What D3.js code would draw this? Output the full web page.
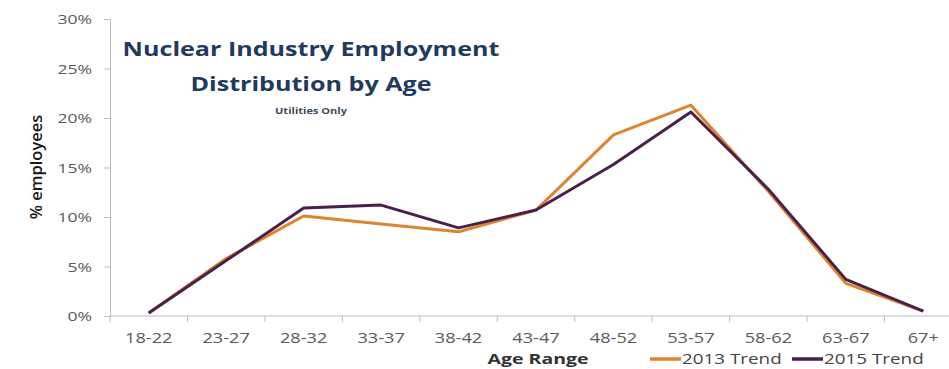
<!DOCTYPE html>
<html>
<head>
<meta charset="utf-8">
<script src="https://cdn.jsdelivr.net/npm/d3@7"></script>
<style>
  body { margin: 0; background: #fff; }
  text { font-family: "Open Sans", Lato, sans-serif; }
</style>
</head>
<body>
<div id="chart"></div>
<script>
// age bands on the x axis
var ageRanges = ["18-22", "23-27", "28-32", "33-37", "38-42", "43-47",
                 "48-52", "53-57", "58-62", "63-67", "67+"];

// share of employees, percent
var trend2013 = [0.3, 5.8, 10.1, 9.3, 8.5, 10.7, 18.3, 21.3, 12.6, 3.3, 0.5];
var trend2015 = [0.3, 5.6, 10.9, 11.2, 8.9, 10.7, 15.3, 20.6, 12.8, 3.7, 0.5];

var yTicks = [0, 5, 10, 15, 20, 25, 30];

var seriesNames = ["2013 Trend", "2015 Trend"];
var seriesColors = ["#dc842f", "#4a1f4c"];

var width = 949, height = 369;
var plotLeft = 110, plotRight = 962, plotTop = 19, plotBottom = 316;
// the source picture is stretched sideways, so text is widened to match
var stretch = 1.3;

var svg = d3.select("#chart").append("svg")
  .attr("width", width)
  .attr("height", height);

var x = d3.scaleBand().domain(ageRanges).range([plotLeft, plotRight]);
var y = d3.scaleLinear().domain([0, 30]).range([plotBottom, plotTop]);

/**
* addText
* [puts a text at (px, py) widened by the stretch factor]
**/
function addText(g, px, py, str, size, anchor, fill, weight){
  return g.append("text")
    .attr("transform", "translate(" + px + "," + py + ") scale(" + stretch + ",1)")
    .attr("text-anchor", anchor)
    .attr("fill", fill)
    .style("font-size", size + "px")
    .style("font-weight", weight || "normal")
    .text(str);
}

// y axis
var yAxis = svg.append("g")
  .attr("transform", "translate(" + plotLeft + ",0)")
  .call(d3.axisLeft(y).tickValues(yTicks).tickSize(6).tickFormat(""));
yAxis.selectAll("line, path").attr("stroke", "#bdbdbd");
yTicks.forEach(function(t){
  addText(svg, plotLeft - 18, y(t) + 5, t + "%", 13.5, "end", "#5a5a5a");
});

// x axis, ticks sit between the bands
var xAxis = svg.append("g")
  .attr("transform", "translate(0," + plotBottom + ")");
xAxis.append("line")
  .attr("x1", plotLeft).attr("x2", plotRight)
  .attr("stroke", "#bdbdbd");
xAxis.selectAll(".tk")
  .data(ageRanges)
  .enter()
  .append("line")
  .attr("x1", function(d){ return x(d); })
  .attr("x2", function(d){ return x(d); })
  .attr("y1", 0).attr("y2", 6)
  .attr("stroke", "#bdbdbd");
ageRanges.forEach(function(d){
  addText(svg, x(d) + x.bandwidth()/2, plotBottom + 27, d, 14, "middle", "#5a5a5a");
});

// lines
var line = d3.line()
  .x(function(d, i){ return x(ageRanges[i]) + x.bandwidth()/2; })
  .y(function(d){ return y(d); });

[trend2013, trend2015].forEach(function(s, k){
  svg.append("path")
    .datum(s)
    .attr("fill", "none")
    .attr("stroke", seriesColors[k])
    .attr("stroke-width", 3)
    .attr("stroke-linejoin", "round")
    .attr("d", line);
});

// titles
addText(svg, 311, 56, "Nuclear Industry Employment", 19.3, "middle", "#1f3a5f", "bold");
addText(svg, 311, 91, "Distribution by Age", 19.3, "middle", "#1f3a5f", "bold");
addText(svg, 311, 114, "Utilities Only", 8.5, "middle", "#3a4a5a", "bold");

// axis titles
svg.append("text")
  .attr("transform", "translate(42,167) rotate(-90)")
  .attr("text-anchor", "middle")
  .attr("fill", "#1a1a1a")
  .style("font-size", "16.5px")
  .style("font-weight", 600)
  .text("% employees");
addText(svg, 538, 364, "Age Range", 15, "middle", "#333", "bold");

// legend
var legendX = [650, 792];
seriesNames.forEach(function(name, k){
  svg.append("line")
    .attr("x1", legendX[k]).attr("x2", legendX[k] + 31)
    .attr("y1", 359).attr("y2", 359)
    .attr("stroke", seriesColors[k]).attr("stroke-width", 3.5);
  addText(svg, legendX[k] + 32, 364, name, 14.5, "start", "#444");
});
</script>
</body>
</html>
